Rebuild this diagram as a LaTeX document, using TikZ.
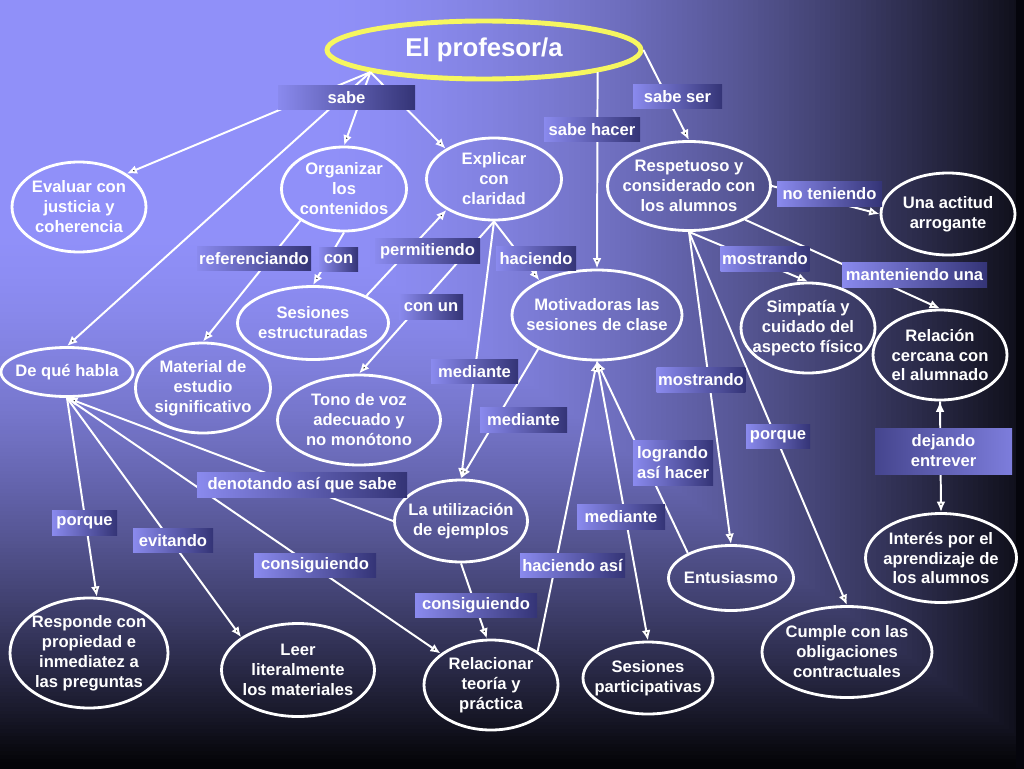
\documentclass[tikz,border=0pt]{standalone}
\usepackage{fontspec}
\setmainfont{Liberation Sans}
\usetikzlibrary{arrows.meta,shapes.geometric}

\definecolor{labL}{RGB}{138,138,238}
\definecolor{labR}{RGB}{52,52,118}
\definecolor{gold}{RGB}{246,246,96}
\definecolor{edgec}{RGB}{5,5,12}

\tikzset{
	txt/.style={text=white,font=\fontsize{11.8}{14.2}\selectfont\bfseries,align=center},
	headnode/.style={ellipse,draw=gold,line width=3.5pt,minimum width=78.5mm,minimum height=14.5mm,inner sep=0pt,text=white,font=\fontsize{18.3}{22}\selectfont\bfseries},
	concept/.style 2 args={ellipse,draw=white,line width=2pt,minimum width=#1,minimum height=#2,inner sep=0pt},
	linkbox/.style={txt,rectangle,left color=labL,right color=labR,minimum height=6.1mm,inner xsep=1pt,inner ysep=0pt},
	conn/.style={draw=white,line width=1.4pt}
}

\begin{document}
\begin{tikzpicture}[x=0.25mm,y=-0.25mm,>={Latex[length=2.6mm,width=2.2mm]}]

	% fondo
	\useasboundingbox (0,0) rectangle (1024,768);
	\foreach \k in {1.04,1.035,...,0.26}{
		\pgfmathsetmacro\fk{max(0.001,(\k-0.3)/0.7)^1.6}
		\pgfmathtruncatemacro\valR{max(145-130*\fk,4)}
		\pgfmathtruncatemacro\valB{max(250-225*\fk,8)}
		\definecolor{bgc}{RGB}{\valR,\valR,\valB}
		\fill[bgc] (0,0) rectangle (1024*\k,740*\k);
	}
	\fill[edgec] (1016,0) rectangle (1024,768);

	% conceptos
	\node [headnode] (prof) at (484,50) {El profesor/a};

	\node [concept={33.5mm}{22.5mm},label={[txt]center:Evaluar con\\justicia y\\coherencia}]		(eval)	at (79,207)	{};
	\node [concept={31.25mm}{21mm},label={[txt]center:Organizar\\los\\contenidos}]					(orga)	at (344,189)	{};
	\node [concept={33.75mm}{20.5mm},label={[txt]center:Explicar\\con\\claridad}]					(expl)	at (494,179)	{};
	\node [concept={40.75mm}{22.25mm},label={[txt]center:Respetuoso y\\considerado con\\los alumnos}]	(resp)	at (689,186)	{};
	\node [concept={33.5mm}{20.5mm},label={[txt]center:Una actitud\\arrogante}]						(arr)	at (948,214)	{};
	\node [concept={42.5mm}{22.5mm},label={[txt]center:Motivadoras las\\sesiones de clase}]			(moti)	at (597,315)	{};
	\node [concept={37.75mm}{18.25mm},label={[txt]center:Sesiones\\estructuradas}]					(sest)	at (313,323)	{};
	\node [concept={33.5mm}{22.5mm},label={[txt]center:Simpatía y\\cuidado del\\aspecto físico}]		(simp)	at (808,328)	{};
	\node [concept={33.5mm}{22.5mm},label={[txt]center:Relación\\cercana con\\el alumnado}]			(relc)	at (940,355)	{};
	\node [concept={33mm}{12.25mm},label={[txt]center:De qué habla}]								(deque)	at (67,372)	{};
	\node [concept={33.75mm}{22.5mm},label={[txt]center:Material de\\estudio\\significativo}]		(mat)	at (203,388)	{};
	\node [concept={40.75mm}{22.5mm},label={[txt]center:Tono de voz\\adecuado y\\no monótono}]		(tono)	at (359,420)	{};
	\node [concept={33.25mm}{20.5mm},label={[txt]center:La utilización\\de ejemplos}]				(util)	at (461,521)	{};
	\node [concept={31.25mm}{16.25mm},label={[txt]center:Entusiasmo}]							(entu)	at (731,578)	{};
	\node [concept={37.75mm}{22.25mm},label={[txt]center:Interés por el\\aprendizaje de\\los alumnos}]	(inter)	at (941,558)	{};
	\node [concept={42.5mm}{22.75mm},label={[txt]center:Cumple con las\\obligaciones\\contractuales}]	(cump)	at (847,652)	{};
	\node [concept={39.5mm}{27.5mm},label={[txt]center:Responde con\\propiedad e\\inmediatez a\\las preguntas}]	(respo)	at (89,653)	{};
	\node [concept={38.25mm}{23.25mm},label={[txt]center:Leer\\literalmente\\los materiales}]		(leer)	at (298,670)	{};
	\node [concept={33.5mm}{22.5mm},label={[txt]center:Relacionar\\teoría y\\práctica}]				(rel)	at (491,685)	{};
	\node [concept={32.5mm}{18mm},label={[txt]center:Sesiones\\participativas}]					(spart)	at (648,678)	{};

	% conectores
	\path [conn,->]	(prof.191)		edge	(eval.35)
					(prof.191)		edge	(deque.north)
					(prof.191)		edge	(orga.north)
					(prof.191)		edge	(expl.148)
					(prof.east)		edge	(resp.north)
					(prof.349.5)	edge	(moti.north)
					(orga.216)		edge	(mat.north)
					(orga.south)	edge	(sest.north)
					(sest.27)		edge	(expl.213)
					(expl.south)	edge	(tono.north)
					(expl.south)	edge	(util.north)
					(expl.south)	edge	(moti.149)
					(moti.210)		edge	(util.north)
					(util.west)		edge	(deque.south)
					(deque.south)	edge	(respo.82)
					(deque.south)	edge	(leer.150)
					(deque.south)	edge	(rel.148)
					(util.south)	edge	(rel.95)
					(rel.36)		edge	(moti.south)
					(moti.south)	edge	(spart.north)
					(entu.150)		edge	(moti.south)
					(resp.east)		edge	(arr.west)
					(resp.-31)		edge	(relc.north)
					(resp.south)	edge	(simp.north)
					(resp.south)	edge	(entu.north)
					(resp.south)	edge	(cump.north)
					(relc.south)	edge	(inter.north);

	% frases de enlace
	\node [linkbox,minimum width=34.25mm]	(l_sabe)	at (346.5,97.5)	{sabe};
	\node [linkbox,minimum width=22.25mm]	(l_ser)		at (677.5,96.5)	{sabe ser};
	\node [linkbox,minimum width=24mm]		(l_hacer)	at (592,129.5)	{sabe hacer};
	\node [linkbox,minimum width=28.5mm]	(l_ref)		at (254,258.5)	{referenciando};
	\node [linkbox,minimum width=9.75mm]	(l_con)		at (338.5,259.5)	{con};
	\node [linkbox,minimum width=26.25mm]	(l_perm)	at (427.5,251)	{permitiendo};
	\node [linkbox,minimum width=16mm]		(l_conun)	at (431,307)	{con un};
	\node [linkbox,minimum width=21.75mm]	(l_med1)	at (474.5,371.5)	{mediante};
	\node [linkbox,minimum width=20mm]		(l_hac)		at (536,258.5)	{haciendo};
	\node [linkbox,minimum width=22mm]		(l_most1)	at (765,259)	{mostrando};
	\node [linkbox,minimum width=26.25mm]	(l_note)	at (829.5,194)	{no teniendo};
	\node [linkbox,minimum width=36.25mm]	(l_mant)	at (914.5,275)	{manteniendo una};
	\node [linkbox,minimum width=22mm]		(l_most2)	at (701,380)	{mostrando};
	\node [linkbox,minimum width=16mm]		(l_porq2)	at (778,436.5)	{porque};
	\node [linkbox,minimum width=34.25mm,minimum height=11.5mm,left color=labR!80!labL,right color=labL!85!labR]	(l_dej)	at (943.5,451)	{dejando\\entrever};
	\node [linkbox,minimum width=20mm,minimum height=11.25mm,align=left]	(l_logr)	at (673,462.5)	{logrando\\así hacer};
	\node [linkbox,minimum width=21.75mm]	(l_med2)	at (523.5,420)	{mediante};
	\node [linkbox,minimum width=22mm]		(l_med3)	at (621,517)	{mediante};
	\node [linkbox,minimum width=26.25mm]	(l_hasi)	at (572.5,565.5)	{haciendo así};
	\node [linkbox,minimum width=30.5mm]	(l_cons2)	at (476,605.5)	{consiguiendo};
	\node [linkbox,minimum width=52.5mm]	(l_denot)	at (302,485)	{denotando así que sabe};
	\node [linkbox,minimum width=16.25mm]	(l_porq1)	at (84.5,523)	{porque};
	\node [linkbox,minimum width=20mm]		(l_evit)	at (173,540.5)	{evitando};
	\node [linkbox,minimum width=30.5mm]	(l_cons1)	at (315,565.5)	{consiguiendo};

\end{tikzpicture}
\end{document}
